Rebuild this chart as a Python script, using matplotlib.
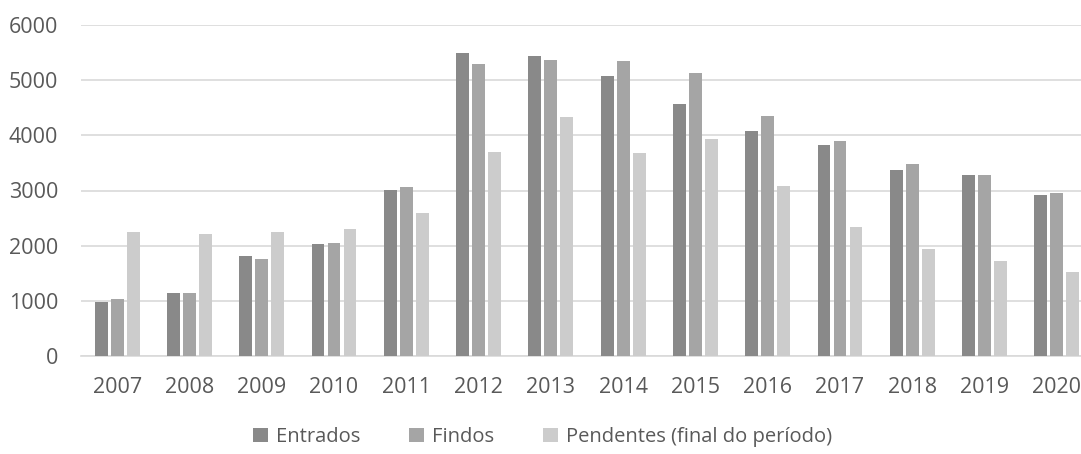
import numpy as np
import matplotlib.pyplot as plt

years = ["2007", "2008", "2009", "2010", "2011", "2012", "2013",
         "2014", "2015", "2016", "2017", "2018", "2019", "2020"]
entrados = [990, 1140, 1815, 2037, 3015, 5482, 5433, 5066, 4571, 4077, 3818, 3365, 3275, 2913]
findos = [1040, 1151, 1766, 2043, 3057, 5289, 5361, 5337, 5132, 4354, 3890, 3480, 3275, 2960]
pendentes = [2243, 2218, 2243, 2309, 2593, 3697, 4324, 3678, 3937, 3076, 2340, 1947, 1719, 1525]
labels = ["Entrados", "Findos", "Pendentes (final do período)"]
colors = ["#898989", "#a5a5a5", "#cccccc"]

plt.rcParams['font.family'] = ['Open Sans', 'DejaVu Sans']

W, H = 1081, 454
fig = plt.figure(figsize=(W / 100, H / 100), dpi=100)
# plot area runs past the right edge, like the cropped original
ax = fig.add_axes([81 / W, (H - 356.3) / H, (1093 - 81) / W, (356.3 - 24.7) / H])

x = np.arange(len(years))
step = 0.221
bw = 0.178
for i, (vals, lab, col) in enumerate(zip([entrados, findos, pendentes], labels, colors)):
    ax.bar(x + (i - 1) * step, vals, bw, color=col, label=lab, zorder=3)

ax.set_xlim(-0.5, len(years) - 0.5)
ax.set_ylim(0, 6000)
ax.set_yticks(range(0, 6001, 1000))
ax.set_xticks(x)
ax.set_xticklabels(years)
ax.grid(axis="y", color="#d9d9d9", linewidth=1.2, zorder=0)
for s in ["top", "right", "left"]:
    ax.spines[s].set_visible(False)
ax.spines["bottom"].set_color("#d9d9d9")
ax.spines["bottom"].set_linewidth(1.2)
ax.tick_params(axis="both", length=0, labelsize=15.5, colors="#595959")
ax.tick_params(axis="x", pad=15)
ax.tick_params(axis="y", pad=16.5)

fig.legend(loc="center", bbox_to_anchor=(0.502, 1 - 437 / H), ncol=3, frameon=False,
           fontsize=14.5, handlelength=0.75, handleheight=0.75, handletextpad=0.4,
           columnspacing=2.4, labelcolor="#595959")

fig.savefig("out.png", dpi=100)
